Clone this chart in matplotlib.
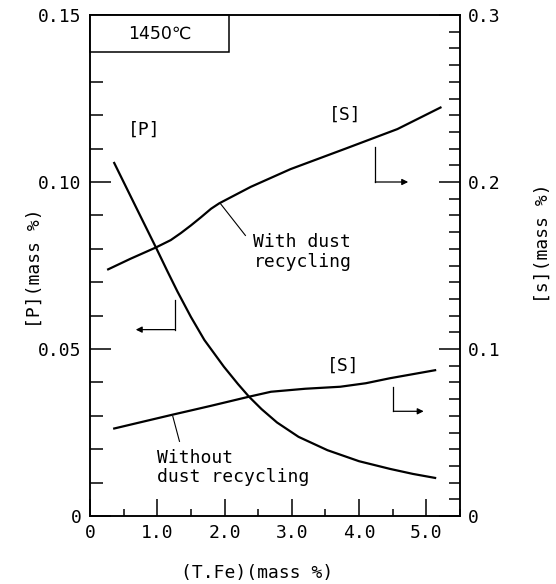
import matplotlib
matplotlib.use("Agg")
import matplotlib.pyplot as plt
from matplotlib.patches import Rectangle
from matplotlib.ticker import MultipleLocator, FixedFormatter, FixedLocator

plt.rcParams['font.family'] = ['DejaVu Sans Mono', 'DejaVu Sans']

# [P] vs (T.Fe), left axis
tfe_p = [0.36, 0.70, 0.98, 1.15, 1.30, 1.50, 1.70, 1.99, 2.20, 2.36, 2.55, 2.78, 3.10, 3.53, 4.00, 4.46, 4.80, 5.13]
p_val = [0.1057, 0.0918, 0.0804, 0.0733, 0.0672, 0.0596, 0.0527, 0.0447, 0.0395, 0.0358, 0.0320, 0.0280, 0.0237, 0.0197, 0.0164, 0.0141, 0.0126, 0.0114]

# [S] with dust recycling, right axis
tfe_sw = [0.27, 0.60, 0.98, 1.20, 1.35, 1.50, 1.65, 1.80, 1.92, 2.10, 2.39, 2.98, 3.80, 4.57, 5.21]
s_with = [0.1477, 0.1540, 0.1608, 0.1652, 0.1694, 0.1740, 0.1789, 0.1840, 0.1872, 0.1910, 0.1971, 0.2077, 0.2200, 0.2317, 0.2446]

# [S] without dust recycling, right axis
tfe_so = [0.36, 1.23, 1.50, 1.80, 2.36, 2.69, 3.20, 3.72, 4.10, 4.46, 5.13]
s_without = [0.0524, 0.0607, 0.0632, 0.0660, 0.0714, 0.0744, 0.0762, 0.0774, 0.0795, 0.0825, 0.0873]

x_ticks = [0, 1.0, 2.0, 3.0, 4.0, 5.0]
x_labels = ['0', '1.0', '2.0', '3.0', '4.0', '5.0']
p_ticks = [0, 0.05, 0.10, 0.15]
p_labels = ['0', '0.05', '0.10', '0.15']
s_ticks = [0, 0.1, 0.2, 0.3]
s_labels = ['0', '0.1', '0.2', '0.3']

fig = plt.figure(figsize=(5.56, 5.84), dpi=100)
ax = fig.add_axes([90/556, 1 - 516/584, 370/556, 501/584])
ax2 = ax.twinx()

lw = 1.6
ax.plot(tfe_p, p_val, color='black', lw=lw)
ax2.plot(tfe_sw, s_with, color='black', lw=lw)
ax2.plot(tfe_so, s_without, color='black', lw=lw)

ax.set_xlim(0, 5.5)
ax.set_ylim(0, 0.15)
ax2.set_ylim(0, 0.3)

fs = 13
ax.xaxis.set_major_locator(FixedLocator(x_ticks))
ax.xaxis.set_major_formatter(FixedFormatter(x_labels))
ax.xaxis.set_minor_locator(MultipleLocator(0.5))
ax.yaxis.set_major_locator(FixedLocator(p_ticks))
ax.yaxis.set_major_formatter(FixedFormatter(p_labels))
ax.yaxis.set_minor_locator(MultipleLocator(0.01))
ax2.yaxis.set_major_locator(FixedLocator(s_ticks))
ax2.yaxis.set_major_formatter(FixedFormatter(s_labels))
ax2.yaxis.set_minor_locator(MultipleLocator(0.01))

ax.tick_params(axis='x', which='major', direction='in', length=12, width=1.1, labelsize=fs, pad=6, top=False)
ax.tick_params(axis='x', which='minor', direction='in', length=5, width=1.1, top=False)
ax.tick_params(axis='y', which='major', direction='in', length=15, width=1.1, labelsize=fs, pad=6)
ax.tick_params(axis='y', which='minor', direction='in', length=9, width=1.1)
ax2.tick_params(axis='y', which='major', direction='in', length=15, width=1.1, labelsize=fs, pad=6)
ax2.tick_params(axis='y', which='minor', direction='in', length=8, width=1.1)

for a in (ax, ax2):
    for sp in a.spines.values():
        sp.set_linewidth(1.1)

# temperature box in the upper left corner
ax.add_patch(Rectangle((0, 0.926), 0.377, 0.074, transform=ax.transAxes,
                       facecolor='white', edgecolor='black', lw=1.1, zorder=5, clip_on=False))
ax.text(0.19, 0.963, '1450℃', transform=ax.transAxes, ha='center', va='center',
        fontsize=12.5, family='DejaVu Sans', zorder=6)

# curve labels
ax.text(0.80, 0.1155, '[P]', fontsize=fs, ha='center', va='center')
ax2.text(3.80, 0.240, '[S]', fontsize=fs, ha='center', va='center')
ax2.text(3.77, 0.090, '[S]', fontsize=fs, ha='center', va='center')

# axis pointer arrows
arr = dict(arrowstyle='-|>', lw=0.9, color='black', mutation_scale=9, shrinkA=0, shrinkB=0)
ax.plot([1.26, 1.26], [0.0647, 0.0558], color='black', lw=0.9)
ax.annotate('', xy=(0.68, 0.0558), xytext=(1.26, 0.0558), arrowprops=arr)
ax2.plot([4.24, 4.24], [0.221, 0.200], color='black', lw=0.9)
ax2.annotate('', xy=(4.73, 0.200), xytext=(4.24, 0.200), arrowprops=arr)
ax2.plot([4.51, 4.51], [0.0775, 0.0627], color='black', lw=0.9)
ax2.annotate('', xy=(4.96, 0.0627), xytext=(4.51, 0.0627), arrowprops=arr)

# leader lines and their notes
ax2.plot([2.31, 1.94], [0.168, 0.187], color='black', lw=0.8)
ax2.text(2.43, 0.158, 'With dust\nrecycling', fontsize=fs, ha='left', va='center', linespacing=1.1)
ax2.plot([1.33, 1.23], [0.0447, 0.0598], color='black', lw=0.8)
ax2.text(1.00, 0.029, 'Without\ndust recycling', fontsize=fs, ha='left', va='center', linespacing=1.1)

fig.text(35/556, 1 - 268/584, '[P](mass %)', rotation=90, ha='center', va='center', fontsize=fs)
fig.text(543/556, 1 - 243/584, '[s](mass %)', rotation=90, ha='center', va='center', fontsize=fs)
fig.text(257/556, 1 - 573/584, '(T.Fe)(mass %)', ha='center', va='center', fontsize=fs)

fig.savefig('out.png', dpi=100, facecolor='white')
